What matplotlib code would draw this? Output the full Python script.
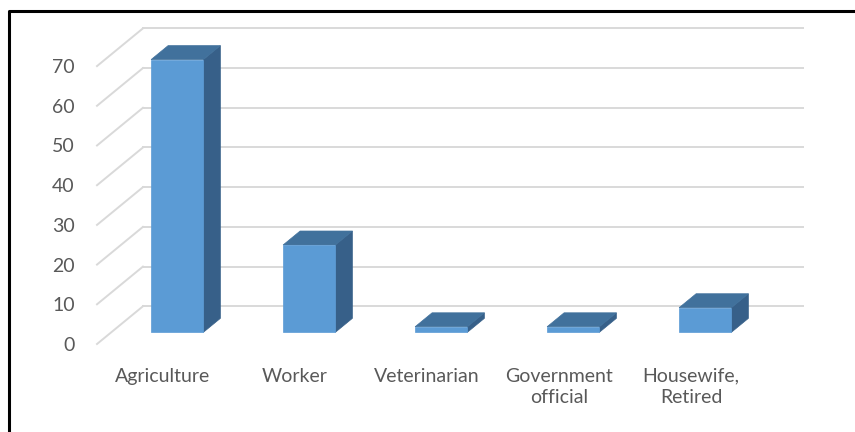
import matplotlib
matplotlib.use("AGG")
import matplotlib.pyplot as plt
from matplotlib.patches import Polygon
from matplotlib.lines import Line2D

# occupation shares (%)
categories = ["Agriculture", "Worker", "Veterinarian", "Government\nofficial", "Housewife,\nRetired"]
values = [68.7, 22.0, 1.4, 1.4, 6.2]
yticks = [0, 10, 20, 30, 40, 50, 60, 70]

# colours of the excel style 3d columns
front_col = "#5B9BD5"
top_col = "#41719C"
side_col = "#376089"
grid_col = "#D9D9D9"
text_col = "#595959"

# oblique depth of the plot box, in data units (x per category, y per value)
DX = 0.348
DY = 9.5
# bars sit between these depth fractions
D0 = 0.31
D1 = 0.68
BAR_W = 0.396

W, H = 855, 432
fig = plt.figure(figsize=(W / 100, H / 100), dpi=100)
ax = fig.add_axes([97 / W, (H - 344) / H, 660 / W, 70 * 3.97 / H])
ax.set_xlim(-0.5, len(categories) - 0.5)
ax.set_ylim(0, 70)

# walls: back wall gridlines and the diagonals on the left wall
x_left = -0.5
x_right = len(categories) - 0.5
for v in yticks:
    ax.plot([x_left + DX, x_right + DX], [v + DY, v + DY], color=grid_col,
            lw=1.4, clip_on=False, zorder=1)
    ax.plot([x_left, x_left + DX], [v, v + DY], color=grid_col,
            lw=1.4, clip_on=False, zorder=1)

# 3d looking columns
for i, h in enumerate(values):
    x0 = i - BAR_W / 2 + D0 * DX
    x1 = i + BAR_W / 2 + D0 * DX
    y0 = D0 * DY
    y1 = h + D0 * DY
    bx = (D1 - D0) * DX
    by = (D1 - D0) * DY
    front = Polygon([(x0, y0), (x1, y0), (x1, y1), (x0, y1)], closed=True,
                    facecolor=front_col, edgecolor=front_col, lw=0.5, zorder=3, clip_on=False)
    top = Polygon([(x0, y1), (x1, y1), (x1 + bx, y1 + by), (x0 + bx, y1 + by)], closed=True,
                  facecolor=top_col, edgecolor=top_col, lw=0.5, zorder=3, clip_on=False)
    side = Polygon([(x1, y0), (x1 + bx, y0 + by), (x1 + bx, y1 + by), (x1, y1)], closed=True,
                   facecolor=side_col, edgecolor=side_col, lw=0.5, zorder=3, clip_on=False)
    ax.add_patch(side)
    ax.add_patch(top)
    ax.add_patch(front)

for s in ax.spines.values():
    s.set_visible(False)
ax.set_yticks(yticks)
ax.set_yticklabels([str(t) for t in yticks])
ax.set_xticks(range(len(categories)))
ax.set_xticklabels(categories, linespacing=1.3)
ax.tick_params(axis="both", length=0, labelcolor=text_col, labelsize=14)
ax.tick_params(axis="y", pad=16)
ax.tick_params(axis="x", pad=17)
for lab in ax.get_xticklabels() + ax.get_yticklabels():
    lab.set_fontfamily("Lato")

# black frame around the chart (right and bottom edges fall outside the image)
fig.add_artist(Line2D([8.5 / W, 8.5 / W, 1.0], [0.0, 1 - 11 / H, 1 - 11 / H],
                      transform=fig.transFigure, color="black", lw=2.2))

fig.savefig("out.png", dpi=100)
